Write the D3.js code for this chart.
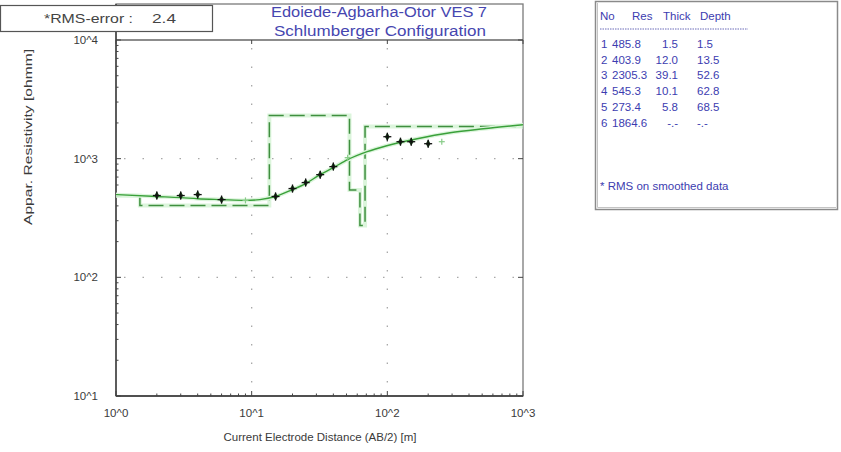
<!DOCTYPE html>
<html>
<head>
<meta charset="utf-8">
<script src="https://cdn.jsdelivr.net/npm/d3@7"></script>
<style>
  body { margin: 0; background: #fff; }
  svg { display: block; font-family: "Liberation Sans", Arial, sans-serif; }
</style>
</head>
<body>
<svg id="chart" width="841" height="452"></svg>
<script>
// ---------- data ----------
const chartTitle = ["Edoiede-Agbarha-Otor VES 7", "Schlumberger Configuration"];
const rmsError = "2.4";
const xAxisTitle = "Current Electrode Distance (AB/2) [m]";
const yAxisTitle = "Appar. Resistivity [ohmm]";

const xTickValues = [1, 10, 100, 1000];
const xTickLabels = ["10^0", "10^1", "10^2", "10^3"];
const yTickValues = [10, 100, 1000, 10000];
const yTickLabels = ["10^1", "10^2", "10^3", "10^4"];

// layered model (table)
const layerNo     = [1, 2, 3, 4, 5, 6];
const modelRes    = [485.8, 403.9, 2305.3, 545.3, 273.4, 1864.6];
const modelThick  = ["1.5", "12.0", "39.1", "10.1", "5.8", "-.-"];
const modelDepth  = ["1.5", "13.5", "52.6", "62.8", "68.5", "-.-"];
const modelDepthValues = [1.5, 13.5, 52.6, 62.8, 68.5];

// measured apparent resistivity
const measAB  = [2, 3, 4, 6, 15, 20, 25, 32, 40, 100, 125, 150, 200];
const measRho = [489, 489, 498, 452, 480, 560, 629, 733, 857, 1531, 1390, 1390, 1337];

// masked (excluded) points
const maskAB  = [9, 51, 252];
const maskRho = [445, 1020, 1390];

// smoothed / calculated curve
const curveAB  = [1, 2, 3, 4, 6, 9, 11.5, 15, 20, 25, 31, 40, 51, 71, 99, 166, 290, 510, 1000];
const curveRho = [498, 480, 470, 460, 452, 445, 452, 480, 549, 617, 719, 840, 981, 1145, 1285, 1472, 1653, 1787, 1931];

// ---------- drawing ----------
const svg = d3.select("#chart");
const x = d3.scaleLog().domain([1, 1000]).range([116, 523]);
const y = d3.scaleLog().domain([10, 10000]).range([396, 40]);
const left = x.range()[0], right = x.range()[1];
const bottom = y.range()[0], top4 = y.range()[1];
const frameTop = 4;

svg.append("rect").attr("width", 841).attr("height", 452).attr("fill", "#fff");

// grid (dotted)
const grid = svg.append("g").attr("stroke", "#a8a8a8").attr("stroke-width", 1.3)
  .attr("stroke-dasharray", "1.5,17");
[10, 100].forEach(v => grid.append("line")
  .attr("x1", x(v)).attr("x2", x(v)).attr("y1", top4 + 8).attr("y2", bottom));
[100, 1000].forEach(v => grid.append("line")
  .attr("x1", left + 8).attr("x2", right).attr("y1", y(v)).attr("y2", y(v)));

// frame
svg.append("rect").attr("x", left).attr("y", frameTop)
  .attr("width", right - left).attr("height", bottom - frameTop)
  .attr("fill", "none").attr("stroke", "#7a7a7a").attr("stroke-width", 1.3);
svg.append("line").attr("x1", left).attr("x2", right).attr("y1", top4).attr("y2", top4)
  .attr("stroke", "#666").attr("stroke-width", 1.3);
svg.append("line").attr("x1", left).attr("x2", left).attr("y1", frameTop).attr("y2", bottom)
  .attr("stroke", "#333").attr("stroke-width", 1.3);
svg.append("line").attr("x1", left).attr("x2", right).attr("y1", bottom).attr("y2", bottom)
  .attr("stroke", "#333").attr("stroke-width", 1.3);

// ticks (inward)
const ticks = svg.append("g").attr("stroke", "#444").attr("stroke-width", 1);
const xMinor = [], yMinor = [];
for (let d = 1; d < 1000; d *= 10) for (let k = 2; k <= 9; k++) xMinor.push(d * k);
for (let d = 10; d < 10000; d *= 10) for (let k = 2; k <= 9; k++) yMinor.push(d * k);
xMinor.forEach(v => ticks.append("line").attr("x1", x(v)).attr("x2", x(v))
  .attr("y1", bottom).attr("y2", bottom - 2.5));
yMinor.forEach(v => ticks.append("line").attr("x1", left).attr("x2", left + 2.5)
  .attr("y1", y(v)).attr("y2", y(v)));
xTickValues.forEach(v => {
  ticks.append("line").attr("x1", x(v)).attr("x2", x(v)).attr("y1", bottom).attr("y2", bottom - 5);
  ticks.append("line").attr("x1", x(v)).attr("x2", x(v)).attr("y1", top4).attr("y2", top4 + 4);
});
yTickValues.forEach(v => {
  ticks.append("line").attr("x1", left).attr("x2", left + 5).attr("y1", y(v)).attr("y2", y(v));
  ticks.append("line").attr("x1", right).attr("x2", right - 5).attr("y1", y(v)).attr("y2", y(v));
});

// tick labels
const lab = svg.append("g").attr("fill", "#3a3a3a").attr("font-size", 11.5);
xTickValues.forEach((v, i) => lab.append("text").attr("x", x(v)).attr("y", bottom + 21)
  .attr("text-anchor", "middle").text(xTickLabels[i]));
yTickValues.forEach((v, i) => lab.append("text").attr("x", 98).attr("y", y(v) + 4)
  .attr("text-anchor", "end").text(yTickLabels[i]));

// axis titles
svg.append("text").attr("x", 320).attr("y", 441).attr("text-anchor", "middle")
  .attr("font-size", 11.5).attr("fill", "#3a3a3a").text(xAxisTitle);
svg.append("text").attr("transform", "translate(32,137) rotate(-90)")
  .attr("text-anchor", "middle").attr("font-size", 11.5).attr("fill", "#3a3a3a")
  .attr("textLength", 176).attr("lengthAdjust", "spacingAndGlyphs").text(yAxisTitle);

// title
const titleG = svg.append("g").attr("fill", "#4646b0").attr("font-size", 14)
  .attr("text-anchor", "middle").attr("lengthAdjust", "spacingAndGlyphs");
titleG.append("text").attr("x", 379).attr("y", 17).attr("textLength", 216)
  .attr("lengthAdjust", "spacingAndGlyphs").text(chartTitle[0]);
titleG.append("text").attr("x", 380).attr("y", 36).attr("textLength", 212)
  .attr("lengthAdjust", "spacingAndGlyphs").text(chartTitle[1]);

// model step line
const stepPts = [[1, modelRes[0]]];
modelDepthValues.forEach((d, i) => stepPts.push([d, modelRes[i + 1]]));
stepPts.push([1000, modelRes[modelRes.length - 1]]);
const stepLine = d3.line().x(d => x(d[0])).y(d => y(d[1])).curve(d3.curveStepAfter);
svg.append("path").attr("d", stepLine(stepPts)).attr("fill", "none")
  .attr("stroke", "#dcf5dc").attr("stroke-width", 4);
svg.append("path").attr("d", stepLine(stepPts)).attr("fill", "none")
  .attr("stroke", "#3f8f3f").attr("stroke-width", 1.5).attr("stroke-dasharray", "15,6");

// smoothed curve
const curveLine = d3.line().x(d => x(d[0])).y(d => y(d[1])).curve(d3.curveMonotoneX);
const cPts = curveAB.map((a, i) => [a, curveRho[i]]);
svg.append("path").attr("d", curveLine(cPts)).attr("fill", "none")
  .attr("stroke", "#dcf5dc").attr("stroke-width", 4);
svg.append("path").attr("d", curveLine(cPts)).attr("fill", "none")
  .attr("stroke", "#3aa03a").attr("stroke-width", 1.4);

// masked points
const maskG = svg.append("g").attr("stroke", "#88cc88").attr("stroke-width", 1.2);
maskAB.forEach((a, i) => {
  const px = x(a), py = y(maskRho[i]);
  maskG.append("line").attr("x1", px - 3).attr("x2", px + 3).attr("y1", py).attr("y2", py);
  maskG.append("line").attr("x1", px).attr("x2", px).attr("y1", py - 3).attr("y2", py + 3);
});

// measured points
const sym = d3.symbol().type(d3.symbolDiamond).size(20);
const ptG = svg.append("g");
measAB.forEach((a, i) => {
  const px = x(a), py = y(measRho[i]);
  ptG.append("path").attr("d", sym()).attr("transform", `translate(${px},${py})`)
    .attr("fill", "#173d17");
  ptG.append("line").attr("x1", px - 4).attr("x2", px + 4).attr("y1", py).attr("y2", py)
    .attr("stroke", "#111").attr("stroke-width", 1.3);
  ptG.append("line").attr("x1", px).attr("x2", px).attr("y1", py - 4).attr("y2", py + 4)
    .attr("stroke", "#111").attr("stroke-width", 1.3);
});

// RMS box
svg.append("rect").attr("x", 0.5).attr("y", 5.5).attr("width", 212).attr("height", 26)
  .attr("fill", "#fff").attr("stroke", "#555").attr("stroke-width", 1.2);
svg.append("text").attr("x", 44).attr("y", 23).attr("font-size", 13.5).attr("fill", "#444")
  .attr("textLength", 89).attr("lengthAdjust", "spacingAndGlyphs").text("*RMS-error :");
svg.append("text").attr("x", 152).attr("y", 23).attr("font-size", 13.5).attr("fill", "#444")
  .attr("textLength", 24).attr("lengthAdjust", "spacingAndGlyphs").text(rmsError);

// table box
svg.append("rect").attr("x", 595.5).attr("y", 1.5).attr("width", 242).attr("height", 208)
  .attr("fill", "#fff").attr("stroke", "#8a8a8a").attr("stroke-width", 1.5);
svg.append("polyline").attr("points", "597.5,3 597.5,207.5 836,207.5")
  .attr("fill", "none").attr("stroke", "#c4c4c4").attr("stroke-width", 1);
const tb = svg.append("g").attr("fill", "#3c3cb0").attr("font-size", 11.5);
tb.append("text").attr("x", 600).attr("y", 20).text("No");
tb.append("text").attr("x", 632).attr("y", 20).text("Res");
tb.append("text").attr("x", 663).attr("y", 20).text("Thick");
tb.append("text").attr("x", 700).attr("y", 20).text("Depth");
svg.append("line").attr("x1", 600).attr("x2", 748).attr("y1", 29).attr("y2", 29)
  .attr("stroke", "#6a6ab8").attr("stroke-width", 1).attr("stroke-dasharray", "1.5,1");
layerNo.forEach((n, i) => {
  const ty = 48 + i * 15.7;
  tb.append("text").attr("x", 601).attr("y", ty).text(n);
  tb.append("text").attr("x", 612).attr("y", ty).text(modelRes[i].toFixed(1));
  tb.append("text").attr("x", 678).attr("y", ty).attr("text-anchor", "end").text(modelThick[i]);
  tb.append("text").attr("x", 697).attr("y", ty).text(modelDepth[i]);
});
tb.append("text").attr("x", 600).attr("y", 190).text("* RMS on smoothed data");
</script>
</body>
</html>
